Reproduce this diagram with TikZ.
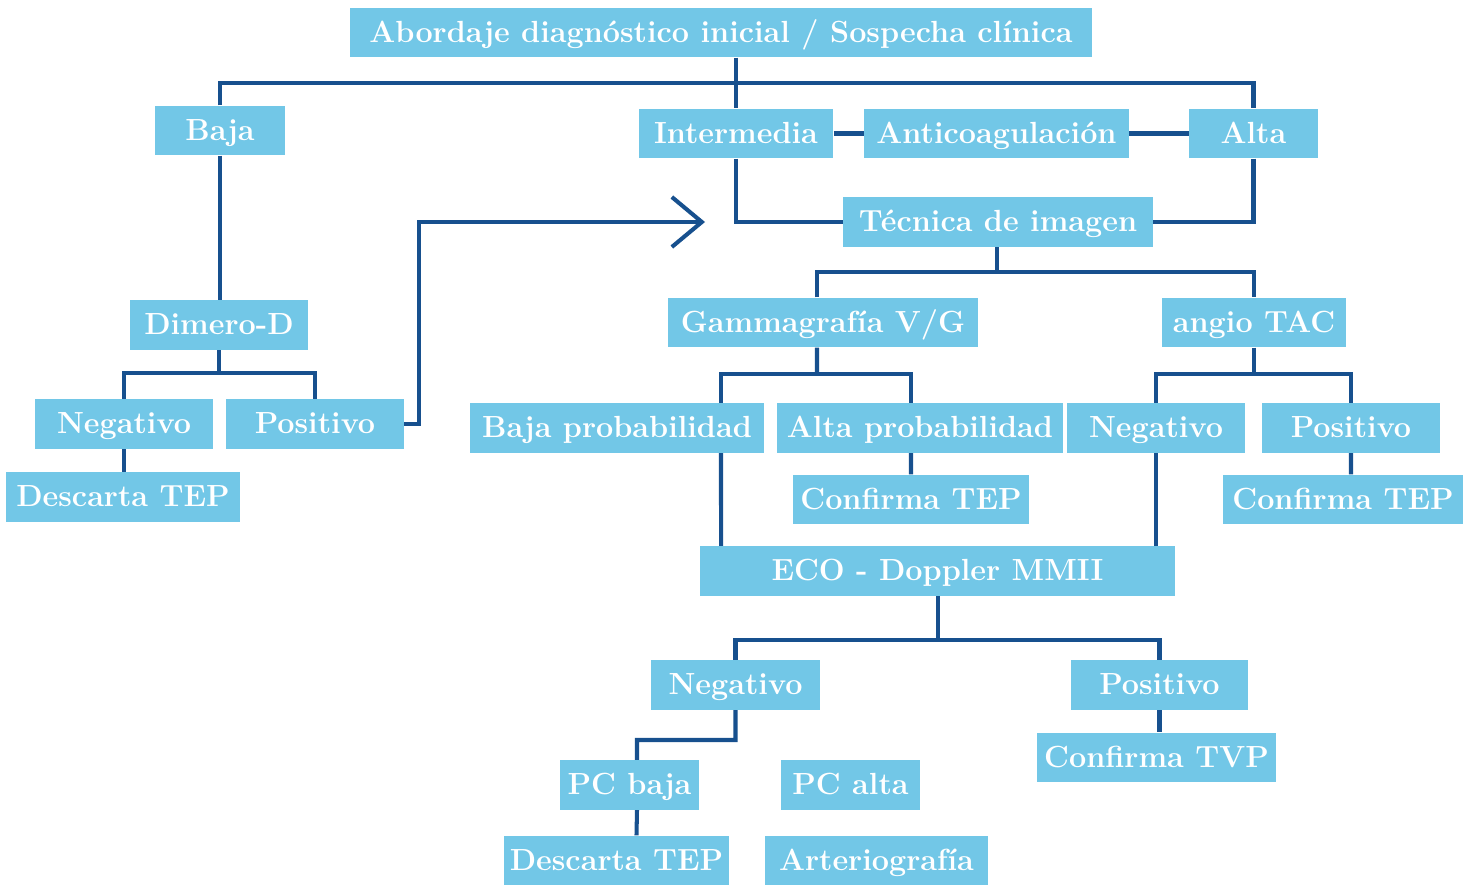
\documentclass[tikz,border=0pt]{standalone}
\usepackage{xcolor}
\definecolor{BoxBlue}{HTML}{72C7E7}
\definecolor{LineBlue}{HTML}{17508E}
\usetikzlibrary{arrows.meta}

\tikzset{
  stepbox/.style={fill=BoxBlue, text=white, font=\fontsize{17.4}{19}\selectfont\bfseries, minimum height=0.99cm, inner sep=0pt, text height=2.8ex, text depth=0.2ex},
  link/.style={draw=LineBlue, line width=2.3pt},
}

\begin{document}
\begin{tikzpicture}[x=0.02cm, y=-0.02cm]
  \useasboundingbox (0,0) rectangle (1472,886);
  % boxes
  \node[stepbox, minimum width=14.84cm] (root) at (721,32.5) {Abordaje diagnóstico inicial / Sospecha clínica};
  \node[stepbox, minimum width=2.6cm] (baja) at (220,130.5) {Baja};
  \node[stepbox, minimum width=3.9cm] (inter) at (736,133.5) {Intermedia};
  \node[stepbox, minimum width=5.3cm] (anticoag) at (996.5,133.5) {Anticoagulación};
  \node[stepbox, minimum width=2.58cm] (alta) at (1253.5,133.5) {Alta};
  \node[stepbox, minimum width=6.2cm] (imagen) at (998,222) {Técnica de imagen};
  \node[stepbox, minimum width=3.56cm] (dimero) at (219,325) {Dimero-D};
  \node[stepbox, minimum width=6.2cm] (gamma) at (823,322.5) {Gammagrafía V/G};
  \node[stepbox, minimum width=3.68cm] (angio) at (1254,322.5) {angio TAC};
  \node[stepbox, minimum width=3.56cm] (negA) at (124,424) {Negativo};
  \node[stepbox, minimum width=3.56cm] (posA) at (315,424) {Positivo};
  \node[stepbox, minimum width=5.88cm] (bajaprob) at (617,428) {Baja probabilidad};
  \node[stepbox, minimum width=5.72cm] (altaprob) at (920,428) {Alta probabilidad};
  \node[stepbox, minimum width=3.56cm] (negB) at (1156,428) {Negativo};
  \node[stepbox, minimum width=3.56cm] (posB) at (1351,428) {Positivo};
  \node[stepbox, minimum width=4.68cm] (descA) at (123,497) {Descarta TEP};
  \node[stepbox, minimum width=4.72cm] (confA) at (911,499.5) {Confirma TEP};
  \node[stepbox, minimum width=4.8cm] (confB) at (1343,499.5) {Confirma TEP};
  \node[stepbox, minimum width=9.5cm] (eco) at (937.5,571) {ECO - Doppler MMII};
  \node[stepbox, minimum width=3.38cm] (negC) at (735.5,685) {Negativo};
  \node[stepbox, minimum width=3.54cm] (posC) at (1159.5,685) {Positivo};
  \node[stepbox, minimum width=4.78cm] (tvp) at (1156.5,757.5) {Confirma TVP};
  \node[stepbox, minimum width=2.78cm] (pcbaja) at (629.5,785) {PC baja};
  \node[stepbox, minimum width=2.78cm] (pcalta) at (850.5,785) {PC alta};
  \node[stepbox, minimum width=4.5cm] (descB) at (616.5,860.5) {Descarta TEP};
  \node[stepbox, minimum width=4.46cm] (arterio) at (876.5,860.5) {Arteriografía};

  % junctions
  \coordinate (topbus) at (736,83);
  \coordinate (imgbus) at (997,272);
  \coordinate (dimbus) at (219,373);
  \coordinate (gammabus) at (817,374);
  \coordinate (angiobus) at (1254,374);
  \coordinate (ecobus) at (938,640);
  \coordinate (pcbend) at (637,740);
  \coordinate (posbend) at (419,222);
  \coordinate (arrowend) at (705,222);

  % connectors
  \draw[link] (inter.north |- root.south) -- (inter.north);
  \draw[link] (baja.north) |- (topbus) -| (alta.north);
  \draw[link] (inter.east) -- (anticoag.west);
  \draw[link] (anticoag.east) -- (alta.west);
  \draw[link] (inter.south) |- (imagen.west);
  \draw[link] (alta.south) |- (imagen.east);
  \draw[link] (baja.south) -- (baja.south |- dimero.north);
  \draw[link] (dimero.south) -- (dimbus);
  \draw[link] (negA.north) |- (dimbus) -| (posA.north);
  \draw[link] (negA.south) -- (negA.south |- descA.north);
  \draw[link, -{Straight Barb[length=0.6cm, width=1cm]}] (posA.east) -| (posbend) -- (arrowend);
  \draw[link] (imgbus |- imagen.south) -- (imgbus);
  \draw[link] ([xshift=-0.12cm]gamma.north) |- (imgbus) -| (angio.north);
  \draw[link] ([xshift=-0.12cm]gamma.south) -- (gammabus);
  \draw[link] ([xshift=2.08cm]bajaprob.north) |- (gammabus) -| ([xshift=-0.18cm]altaprob.north);
  \draw[link] (angio.south) -- (angiobus);
  \draw[link] (negB.north) |- (angiobus) -| (posB.north);
  \draw[link] ([xshift=-0.18cm]altaprob.south) -- (confA.north);
  \draw[link] (posB.south) -- ([xshift=0.16cm]confB.north);
  \draw[link] ([xshift=2.08cm]bajaprob.south) -- ([xshift=-4.33cm]eco.north);
  \draw[link] (negB.south) -- (negB.south |- eco.north);
  \draw[link] (ecobus |- eco.south) -- (ecobus);
  \draw[link] (negC.north) |- (ecobus) -| (posC.north);
  \draw[link] (posC.south) -- (posC.south |- tvp.north);
  \draw[link] (negC.south) |- (pcbend) -- ([xshift=0.15cm]pcbaja.north);
  \draw[link] ([xshift=0.15cm]pcbaja.south) -- ([xshift=0.4cm]descB.north);
\end{tikzpicture}
\end{document}
